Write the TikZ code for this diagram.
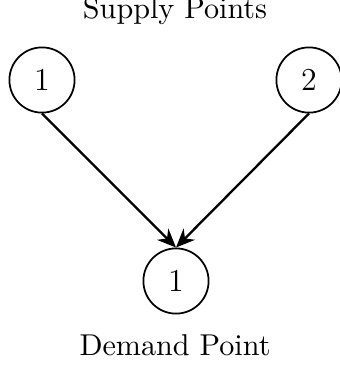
\documentclass[tikz,border=0pt]{standalone}
\usetikzlibrary{arrows.meta}
\begin{document}
\begin{tikzpicture}[x=0.345pt,y=-0.345pt,
  font=\fontsize{10.4pt}{13pt}\selectfont,
  pt/.style={circle,draw,semithick,minimum size=22.5pt,inner sep=0pt},
  flow/.style={thick,-{Stealth[length=6.5pt,width=5.5pt]}},
  lbl/.style={anchor=base,inner sep=0pt}]
\useasboundingbox (0,0) rectangle (340,371);
\node[lbl] (st) at (175,18.5) {Supply Points};
\node[pt,font=\fontsize{11pt}{13pt}\selectfont] (s1) at (42,80) {1};
\node[pt,font=\fontsize{11pt}{13pt}\selectfont] (s2) at (309,80) {2};
\node[pt,font=\fontsize{11pt}{13pt}\selectfont] (d1) at (176,281) {1};
\node[lbl] (dt) at (175,355) {Demand Point};
\draw[flow] (s1.south) -- (d1.north);
\draw[flow] (s2.south) -- (d1.north);
\end{tikzpicture}
\end{document}
